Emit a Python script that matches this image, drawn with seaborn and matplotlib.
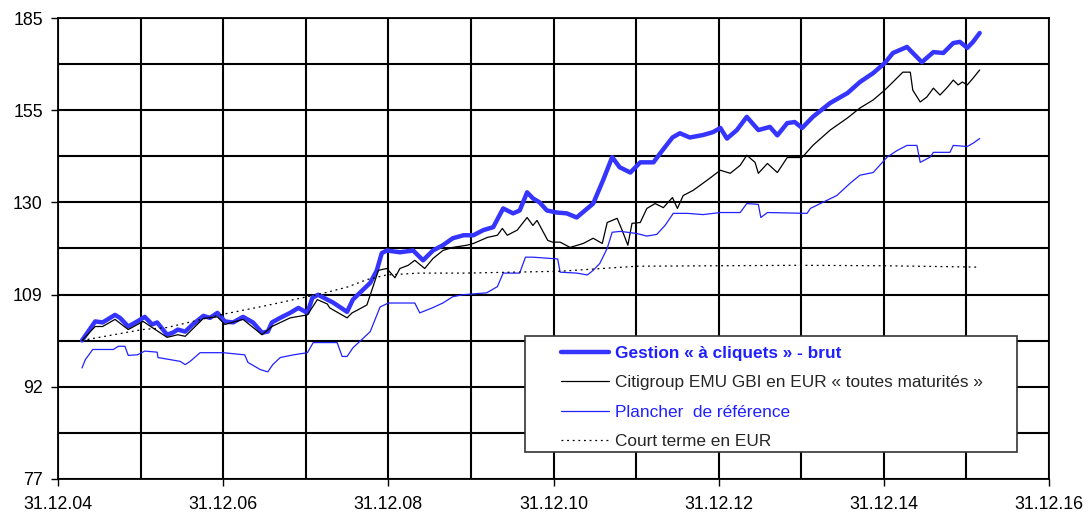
import numpy as np
import pandas as pd
import seaborn as sns
import matplotlib.pyplot as plt
from matplotlib.patches import Rectangle
from matplotlib.ticker import FixedLocator, NullFormatter

# time axis in decimal years (31.12.04 = 2005.0)
gestion_t = [2005.29, 2005.45, 2005.54, 2005.69, 2005.75, 2005.85, 2005.96, 2006.05, 2006.14, 2006.20,
             2006.32, 2006.39, 2006.45, 2006.54, 2006.63, 2006.76, 2006.84, 2006.93, 2007.02, 2007.12,
             2007.24, 2007.36, 2007.47, 2007.54, 2007.59, 2007.69, 2007.81, 2007.91, 2008.02, 2008.08,
             2008.15, 2008.26, 2008.33, 2008.50, 2008.57, 2008.69, 2008.78, 2008.86, 2008.92, 2008.98,
             2009.14, 2009.30, 2009.42, 2009.54, 2009.66, 2009.78, 2009.91, 2010.03, 2010.15, 2010.27,
             2010.39, 2010.51, 2010.59, 2010.68, 2010.75, 2010.83, 2010.92, 2011.04, 2011.16, 2011.28,
             2011.48, 2011.60, 2011.71, 2011.80, 2011.93, 2012.05, 2012.21, 2012.29, 2012.44, 2012.53,
             2012.65, 2012.81, 2012.93, 2013.02, 2013.10, 2013.22, 2013.34, 2013.48, 2013.62, 2013.71,
             2013.83, 2013.92, 2014.01, 2014.14, 2014.35, 2014.56, 2014.71, 2014.87, 2015.01, 2015.11,
             2015.28, 2015.34, 2015.46, 2015.60, 2015.72, 2015.84, 2015.92, 2016.01, 2016.08, 2016.16]
gestion_v = [100.2, 103.9, 103.7, 105.2, 104.6, 102.9, 103.9, 104.8, 103.3, 103.7,
             101.3, 101.7, 102.3, 101.9, 103.3, 105.0, 104.6, 105.6, 103.9, 103.7,
             104.8, 103.7, 101.7, 101.9, 103.7, 104.6, 105.6, 106.6, 105.6, 108.7,
             109.3, 108.3, 107.7, 105.8, 108.3, 110.3, 111.8, 114.5, 118.3, 118.9,
             118.5, 118.9, 116.7, 118.9, 120.1, 121.7, 122.4, 122.4, 123.6, 124.3,
             128.8, 127.6, 128.3, 132.8, 131.3, 130.3, 128.3, 127.8, 127.6, 126.6,
             130.0, 135.9, 142.0, 139.3, 137.9, 140.6, 140.6, 143.0, 147.4, 148.6,
             147.4, 148.1, 148.9, 150.1, 147.1, 149.5, 153.3, 149.5, 150.4, 148.0,
             151.5, 151.8, 150.1, 153.3, 157.4, 160.4, 163.8, 166.6, 169.8, 173.1,
             175.1, 173.4, 170.1, 173.4, 173.1, 176.4, 176.8, 174.8, 176.8, 179.8]

citi_t = [2005.29, 2005.45, 2005.54, 2005.69, 2005.85, 2006.03, 2006.14, 2006.32, 2006.45, 2006.54,
          2006.76, 2006.93, 2007.02, 2007.24, 2007.47, 2007.59, 2007.81, 2008.02, 2008.14, 2008.26,
          2008.29, 2008.50, 2008.56, 2008.63, 2008.74, 2008.88, 2008.98, 2009.08, 2009.14, 2009.24,
          2009.32, 2009.44, 2009.54, 2009.66, 2009.78, 2009.95, 2010.03, 2010.20, 2010.32, 2010.38,
          2010.44, 2010.56, 2010.68, 2010.75, 2010.80, 2010.93, 2010.99, 2011.08, 2011.20, 2011.36,
          2011.48, 2011.59, 2011.65, 2011.77, 2011.83, 2011.90, 2011.95, 2012.05, 2012.13, 2012.23,
          2012.33, 2012.44, 2012.50, 2012.57, 2012.69, 2012.86, 2013.02, 2013.14, 2013.26, 2013.34,
          2013.44, 2013.48, 2013.59, 2013.71, 2013.83, 2013.95, 2014.01, 2014.14, 2014.35, 2014.56,
          2014.71, 2014.87, 2015.01, 2015.11, 2015.23, 2015.32, 2015.35, 2015.44, 2015.52, 2015.60,
          2015.68, 2015.77, 2015.84, 2015.90, 2015.95, 2016.01, 2016.08, 2016.16]
citi_v = [100.2, 102.9, 102.9, 104.3, 102.3, 103.9, 102.7, 100.8, 101.3, 101.0,
          104.5, 104.8, 103.3, 104.3, 101.3, 102.9, 104.6, 105.2, 108.3, 107.4,
          106.6, 104.6, 105.6, 106.2, 107.2, 114.5, 114.9, 112.9, 114.9, 115.6,
          116.7, 114.9, 117.1, 118.9, 119.6, 120.1, 120.5, 121.9, 122.4, 124.0,
          122.4, 123.6, 126.6, 124.7, 125.9, 121.2, 120.8, 120.8, 119.6, 120.5,
          121.7, 120.5, 125.4, 126.4, 123.6, 120.1, 125.2, 125.4, 128.8, 130.0,
          129.0, 131.5, 128.8, 132.0, 133.3, 135.9, 138.5, 137.7, 139.8, 142.5,
          140.6, 137.7, 140.3, 137.9, 141.9, 141.9, 141.9, 145.2, 149.5, 153.0,
          155.9, 158.3, 161.3, 163.8, 166.9, 166.9, 161.3, 157.7, 159.2, 161.9,
          159.8, 162.2, 164.4, 162.9, 163.8, 162.9, 165.0, 167.6]

plancher_t = [2005.29, 2005.33, 2005.42, 2005.67, 2005.73, 2005.81, 2005.85, 2005.96, 2006.05, 2006.20,
              2006.21, 2006.48, 2006.54, 2006.60, 2006.72, 2007.00, 2007.26, 2007.30, 2007.45, 2007.54,
              2007.60, 2007.69, 2007.85, 2008.02, 2008.09, 2008.38, 2008.44, 2008.50, 2008.57, 2008.68,
              2008.78, 2008.90, 2009.00, 2009.32, 2009.38, 2009.53, 2009.66, 2009.78, 2009.90, 2010.19,
              2010.32, 2010.39, 2010.59, 2010.66, 2010.75, 2011.05, 2011.08, 2011.28, 2011.41, 2011.48,
              2011.56, 2011.65, 2011.71, 2011.81, 2012.01, 2012.13, 2012.25, 2012.35, 2012.45, 2012.62,
              2012.81, 2013.02, 2013.26, 2013.34, 2013.48, 2013.51, 2013.59, 2014.07, 2014.11, 2014.26,
              2014.43, 2014.59, 2014.71, 2014.87, 2015.04, 2015.16, 2015.28, 2015.40, 2015.44, 2015.56,
              2015.60, 2015.80, 2015.84, 2016.01, 2016.08, 2016.16]
plancher_v = [95.1, 96.6, 98.5, 98.5, 99.1, 99.1, 97.4, 97.5, 98.2, 98.0,
              97.0, 96.3, 95.7, 96.3, 97.9, 97.9, 97.5, 96.1, 94.8, 94.4,
              95.7, 97.0, 97.5, 97.9, 99.8, 99.8, 97.2, 97.2, 98.8, 100.4,
              101.9, 106.8, 107.6, 107.6, 105.6, 106.6, 107.6, 108.9, 109.3, 109.7,
              111.0, 113.9, 113.9, 117.4, 117.4, 117.0, 114.1, 113.9, 113.5, 114.5,
              116.0, 119.4, 123.1, 123.3, 122.8, 122.2, 122.6, 124.7, 127.6, 127.6,
              127.3, 127.8, 127.8, 130.0, 129.8, 126.6, 127.8, 127.6, 128.8, 130.3,
              132.0, 135.1, 137.2, 137.9, 142.0, 143.8, 145.2, 145.2, 140.6, 142.0,
              143.3, 143.3, 145.2, 144.9, 145.8, 147.1]

court_t = [2005.29, 2006.02, 2006.32, 2007.02, 2007.50, 2008.02, 2008.23, 2008.50, 2008.74, 2008.98,
           2009.38, 2009.95, 2011.08, 2012.01, 2013.00, 2013.98, 2015.00, 2016.16]
court_v = [100.2, 102.3, 102.7, 105.4, 107.0, 108.9, 109.7, 110.9, 112.5, 113.5,
           113.9, 113.9, 114.3, 115.4, 115.5, 115.6, 115.5, 115.2]

labels = ["Gestion « à cliquets » - brut",
          "Citigroup EMU GBI en EUR « toutes maturités »",
          "Plancher  de référence",
          "Court terme en EUR"]
year_ticks = [2005, 2007, 2009, 2011, 2013, 2015, 2017]
xtick_labels = ["31.12.04", "31.12.06", "31.12.08", "31.12.10", "31.12.12", "31.12.14", "31.12.16"]
ytick_labels = ["77", "92", "109", "130", "155", "185"]

sns.set_style("white")
plt.rcParams['font.family'] = ['Liberation Sans', 'DejaVu Sans']

fig = plt.figure(figsize=(10.89, 5.12), dpi=100)
ax = fig.add_axes([0.0533, 0.0645, 0.91, 0.9003])

blue = '#3535ff'
series = [
    (gestion_t, gestion_v, dict(color=blue, lw=3.2, ls='-')),
    (citi_t, citi_v, dict(color='black', lw=0.9, ls='-')),
    (plancher_t, plancher_v, dict(color='#2222ff', lw=0.9, ls='-')),
    (court_t, court_v, dict(color='black', lw=0.9, ls=(0, (1.5, 3)))),
]
for (t, v, st), lab in zip(series, labels):
    df = pd.DataFrame({'t': t, 'v': v})
    sns.lineplot(data=df, x='t', y='v', ax=ax, estimator=None, sort=False,
                 label=lab, color=st['color'], lw=st['lw'], linestyle=st['ls'])

ax.set_yscale('log')
ax.set_ylim(77, 185)
ax.set_xlim(2005, 2017)

levels = 77 * (185 / 77) ** (np.arange(11) / 10)
ax.yaxis.set_major_locator(FixedLocator(levels[::2]))
ax.yaxis.set_minor_locator(FixedLocator(levels[1::2]))
ax.yaxis.set_major_formatter(plt.FixedFormatter(ytick_labels))
ax.yaxis.set_minor_formatter(NullFormatter())
ax.xaxis.set_major_locator(FixedLocator(year_ticks))
ax.xaxis.set_minor_locator(FixedLocator(range(2006, 2017, 2)))
ax.set_xticklabels(xtick_labels)

ax.grid(True, which='both', color='black', lw=1.5)
ax.tick_params(which='major', bottom=True, left=True, length=5, width=1,
               color='black', labelsize=12.8, colors='black')
ax.tick_params(axis='x', which='major', pad=7.5)
ax.tick_params(axis='y', which='major', pad=6)
ax.tick_params(which='minor', length=0)
for s in ax.spines.values():
    s.set_color('black')
    s.set_linewidth(1.3)
ax.set_xlabel('')
ax.set_ylabel('')

# legend box
ax.add_patch(Rectangle((0.471, 0.0586), 0.497, 0.2514, transform=ax.transAxes,
                       facecolor='white', edgecolor='#333333', lw=1.2, zorder=4))
h, l = ax.get_legend_handles_labels()
leg = ax.legend(h, l, loc='upper left', bbox_to_anchor=(0.5076, 0.288),
                frameon=False, fontsize=12.4, handlelength=2.76, handletextpad=0.35,
                labelspacing=0.82, borderpad=0, borderaxespad=0)
leg.set_zorder(5)
txt = leg.get_texts()
txt[0].set_color('#2020ff')
txt[0].set_fontweight('bold')
txt[2].set_color('#2020ff')

fig.savefig('out.png', dpi=100)
